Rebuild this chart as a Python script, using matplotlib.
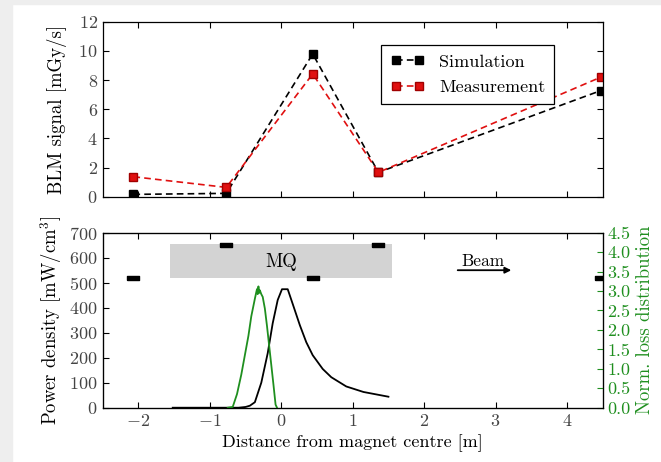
import numpy as np
import matplotlib
matplotlib.use("Agg")
import matplotlib.pyplot as plt
from matplotlib.patches import Rectangle

plt.rcParams['font.family'] = ['cmr10', 'DejaVu Serif']
plt.rcParams['mathtext.fontset'] = 'cm'
plt.rcParams['axes.formatter.use_mathtext'] = True
plt.rcParams['axes.unicode_minus'] = True

# BLM positions along the beam line [m]
blm_pos = [-2.07, -0.77, 0.44, 1.36, 4.47]
blm_level = [520, 650, 520, 650, 520]  # drawing height of BLM symbols in lower panel

# BLM signal [mGy/s]
sim_signal = [0.16, 0.23, 9.79, 1.67, 7.27]
meas_signal = [1.37, 0.64, 8.42, 1.67, 8.19]

# power density profile [mW/cm^3]
pd_x = [-1.52, -0.60, -0.50, -0.44, -0.37, -0.28, -0.19, -0.12, -0.05, 0.01,
        0.09, 0.16, 0.26, 0.35, 0.44, 0.58, 0.70, 0.91, 1.15, 1.50]
pd_y = [0, 0, 3, 8, 22, 100, 218, 338, 431, 474,
        474, 415, 330, 262, 210, 155, 122, 85, 63, 44]

# normalised loss distribution
loss_x = [-0.75, -0.68, -0.62, -0.56, -0.51, -0.46, -0.42, -0.39, -0.37, -0.35,
          -0.34, -0.33, -0.32, -0.31, -0.30, -0.28, -0.26, -0.23, -0.20, -0.17,
          -0.14, -0.11, -0.08, -0.06]
loss_y = [0, 0.02, 0.35, 0.85, 1.35, 1.85, 2.35, 2.62, 2.8, 2.97,
          3.05, 2.92, 3.12, 2.95, 3.02, 2.92, 2.85, 2.55, 2.1, 1.6,
          1.1, 0.6, 0.08, 0]

# magnet extent
mq_start, mq_end = -1.56, 1.55
mq_low, mq_high = 520, 655

green = '#1f8f1f'
tick_grey = '#444444'

fig = plt.figure(figsize=(6.61, 4.62), dpi=100, facecolor='white')
# grey page margins
fig.patches.append(Rectangle((0, 0), 12 / 661, 1, transform=fig.transFigure,
                             color='#eeeeee', zorder=-10))
fig.patches.append(Rectangle((0, 1 - 4 / 462), 1, 4 / 462, transform=fig.transFigure,
                             color='#eeeeee', zorder=-10))

ax1 = fig.add_axes([0.1554, 0.5742, 0.7564, 0.3788])
ax2 = fig.add_axes([0.1554, 0.1175, 0.7564, 0.3788])

for ax in (ax1, ax2):
    ax.set_xlim(-2.5, 4.5)
    ax.set_xticks([-2, -1, 0, 1, 2, 3, 4])
    ax.tick_params(direction='in', top=True, length=4, width=0.8,
                   labelsize=13, labelcolor=tick_grey)
    for s in ax.spines.values():
        s.set_linewidth(0.9)

# upper panel
ax1.plot(blm_pos, sim_signal, '--s', color='black', ms=5.5, lw=1.2,
         dashes=(4, 2.5), label='Simulation')
ax1.plot(blm_pos, meas_signal, '--s', color='#e01010', mec='#a00000', ms=5.5, lw=1.2,
         dashes=(4, 2.5), label='Measurement')
ax1.set_ylim(0, 12)
ax1.set_yticks(range(0, 13, 2))
ax1.tick_params(right=True, labelbottom=False)
ax1.set_ylabel('BLM signal [mGy/s]', fontsize=13.5, labelpad=8)
leg = ax1.legend(loc='upper right', bbox_to_anchor=(0.903, 0.867), fontsize=13,
                 fancybox=False, edgecolor='black', framealpha=1, numpoints=2,
                 handlelength=1.9, handletextpad=0.8, borderpad=0.5,
                 labelspacing=0.55, borderaxespad=0)
leg.get_frame().set_linewidth(0.9)

# lower panel
ax2.add_patch(Rectangle((mq_start, mq_low), mq_end - mq_start, mq_high - mq_low,
                        facecolor='#d3d3d3', edgecolor='none', zorder=0))
ax2.text((mq_start + mq_end) / 2, (mq_low + mq_high) / 2 - 5, 'MQ', ha='center',
         va='center', fontsize=13.5)
ax2.plot(pd_x, pd_y, color='black', lw=1.3)
blm_marker = [(-1, -0.42), (1, -0.42), (1, 0.42), (-1, 0.42), (-1, -0.42)]
ax2.plot(blm_pos, blm_level, ls='none', marker=blm_marker, ms=8, color='black')
ax2.annotate('', xy=(3.22, 550), xytext=(2.47, 550),
             arrowprops=dict(arrowstyle='-|>', color='black', lw=1.3,
                             mutation_scale=9, shrinkA=0, shrinkB=0))
ax2.text(2.83, 553, 'Beam', ha='center', va='bottom', fontsize=12.5)
ax2.set_ylim(0, 700)
ax2.set_yticks(range(0, 701, 100))
ax2.set_ylabel('Power density [mW/cm$^3$]', fontsize=13.5)
ax2.set_xlabel('Distance from magnet centre [m]', fontsize=13)

ax3 = ax2.twinx()
ax3.plot(loss_x, loss_y, color=green, lw=1.3)
ax3.set_ylim(0, 4.5)
ax3.set_yticks(np.arange(0, 4.51, 0.5))
ax3.set_yticklabels([f'{v:.1f}' for v in np.arange(0, 4.51, 0.5)])
ax3.tick_params(direction='in', length=4, width=0.8, labelsize=13,
                colors=green, labelcolor=green)
ax3.spines['right'].set_color('black')
ax3.set_ylabel('Norm. loss distribution', fontsize=13.5, color=green)
ax2.tick_params(right=False)

fig.savefig('out.png', dpi=100, facecolor=fig.get_facecolor())
